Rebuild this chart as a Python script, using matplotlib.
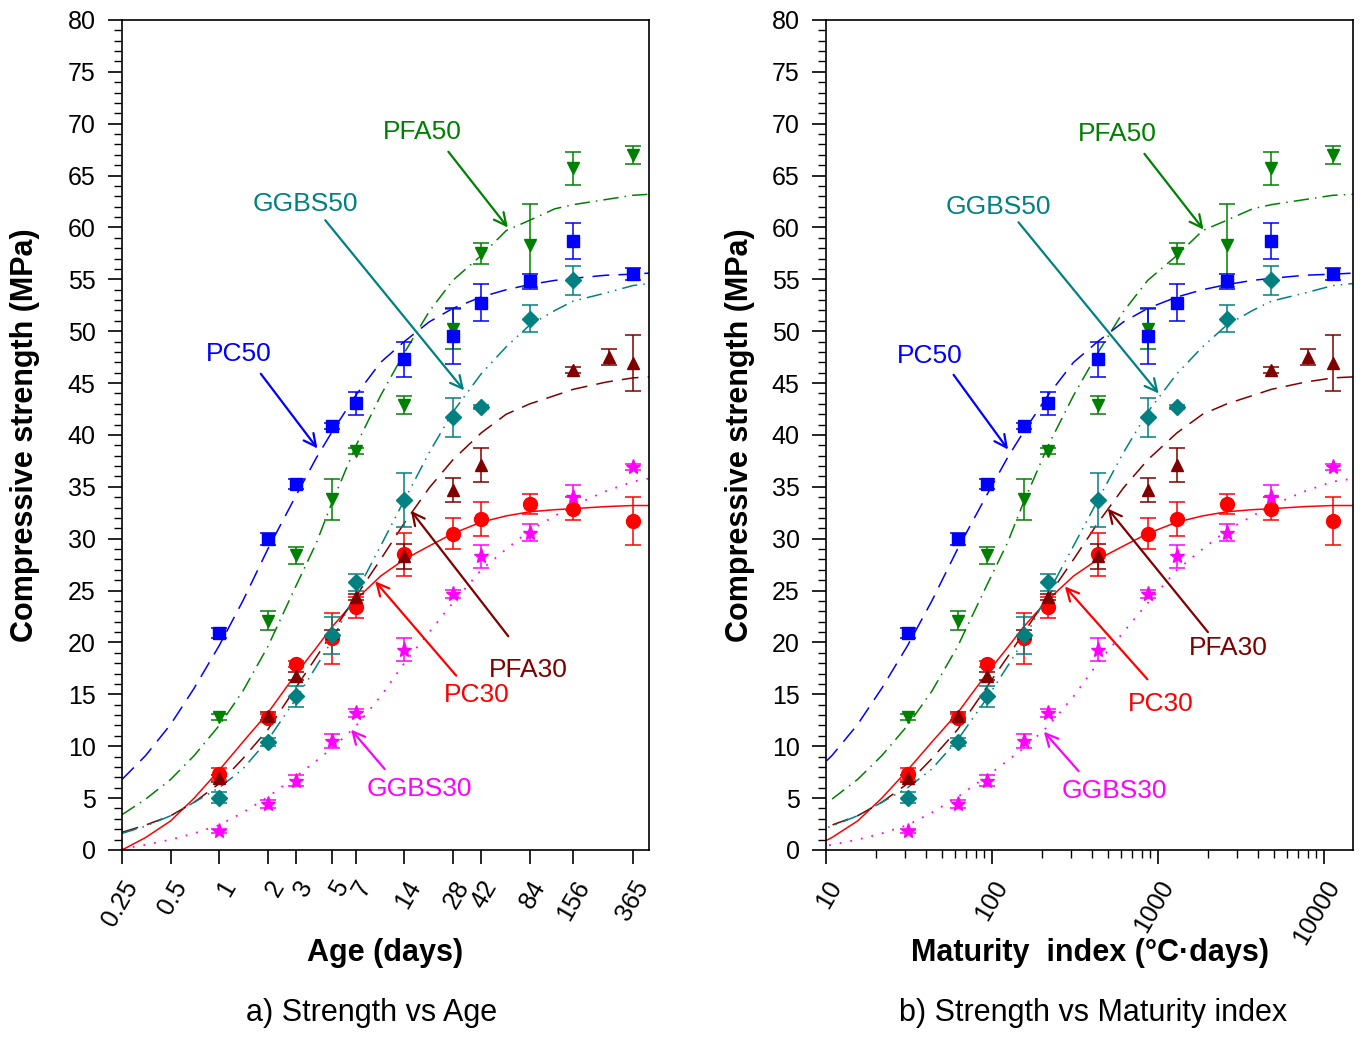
import matplotlib
matplotlib.use("Agg")
import matplotlib.pyplot as plt
from matplotlib.ticker import MultipleLocator, FixedLocator, NullFormatter, LogLocator, FixedFormatter

plt.rcParams["font.family"] = ["Liberation Sans", "DejaVu Sans"]

# ---- measured strengths (MPa) ----
ages = [1, 2, 3, 5, 7, 14, 28, 42, 84, 156, 365]
maturity = [31, 62, 93, 155, 217, 434, 868, 1302, 2604, 4836, 11315]

pc50 = [20.9, 30.0, 35.25, 40.9, 43.05, 47.3, 49.5, 52.75, 54.8, 58.7, 55.5]
pc50_err = [0.5, 0.6, 0.5, 0.3, 1.1, 1.7, 2.7, 1.8, 0.7, 1.7, 0.6]
pfa50 = [12.85, 22.1, 28.4, 33.8, 38.45, 42.9, 50.2, 57.5, 58.3, 65.7, 67.0]
pfa50_err = [0.3, 0.9, 0.8, 2.0, 0.3, 0.9, 1.9, 1.0, 4.0, 1.6, 0.9]

ages_ggbs50 = [1, 2, 3, 5, 7, 14, 28, 42, 84, 156]
maturity_ggbs50 = [31, 62, 93, 155, 217, 434, 868, 1302, 2604, 4836]
ggbs50 = [5.05, 10.4, 14.8, 20.7, 25.8, 33.7, 41.7, 42.7, 51.2, 54.9]
ggbs50_err = [0.5, 0.4, 1.0, 1.8, 0.8, 2.6, 1.9, 0.2, 1.3, 1.4]

pc30 = [7.3, 12.75, 17.96, 20.4, 23.4, 28.5, 30.5, 31.9, 33.35, 32.9, 31.7]
pc30_err = [0.6, 0.4, 0.3, 2.45, 1.0, 2.1, 1.5, 1.6, 0.95, 1.1, 2.3]

ages_pfa30 = [1, 2, 3, 5, 7, 14, 28, 42, 156, 260, 365]
maturity_pfa30 = [31, 62, 93, 155, 217, 434, 868, 1302, 4836, 8060, 11315]
pfa30 = [6.9, 12.9, 16.8, 20.9, 24.4, 28.3, 34.7, 37.1, 46.3, 47.5, 46.9]
pfa30_err = [0.3, 0.4, 0.4, 0.3, 0.3, 1.2, 1.2, 1.6, 0.3, 0.8, 2.7]

ggbs30 = [1.86, 4.43, 6.68, 10.5, 13.2, 19.3, 24.7, 28.3, 30.6, 34.0, 36.9]
ggbs30_err = [0.2, 0.4, 0.5, 0.7, 0.4, 1.1, 0.4, 1.1, 0.8, 1.2, 0.3]

# ---- fitted curves ----
ages_fit = [0.25, 0.35, 0.5, 0.7, 1, 1.4, 2, 3, 4, 5, 7, 10, 14, 20, 28, 42,
            60, 84, 120, 156, 250, 365, 460]
maturity_fit = [7.75, 10.85, 15.5, 21.7, 31, 43.4, 62, 93, 124, 155, 217, 310,
                434, 620, 868, 1302, 1860, 2604, 3720, 4836, 7750, 11315, 15000]
pc50_fit = [6.8, 9.1, 12.1, 15.6, 19.7, 24.0, 29.0, 34.2, 37.8, 40.3, 43.8, 47.0,
            49.0, 50.9, 52.2, 53.3, 54.0, 54.5, 54.9, 55.1, 55.4, 55.5, 55.6]
pfa50_fit = [3.4, 4.9, 6.8, 9.1, 12.0, 15.3, 19.6, 25.5, 29.6, 33.5, 38.9, 43.8,
             47.9, 51.9, 54.9, 57.3, 59.7, 60.7, 61.8, 62.2, 62.7, 63.1, 63.2]
ggbs50_fit = [1.6, 2.3, 3.3, 4.6, 6.0, 7.8, 10.6, 14.6, 17.7, 20.2, 24.7, 29.3,
              33.7, 38.3, 42.2, 45.9, 48.5, 50.6, 52.0, 52.9, 53.7, 54.4, 54.6]
pfa30_fit = [1.7, 2.4, 3.3, 4.6, 6.4, 8.8, 11.6, 15.7, 18.6, 20.9, 24.4, 28.0,
             31.5, 34.9, 37.6, 40.2, 42.0, 43.0, 43.8, 44.4, 45.1, 45.5, 45.6]
pc30_fit = [0.0, 1.2, 2.8, 5.0, 7.7, 10.4, 13.2, 17.0, 19.5, 21.5, 24.1, 26.4,
            28.0, 29.3, 30.5, 31.6, 32.2, 32.6, 32.8, 32.9, 33.1, 33.2, 33.2]
ggbs30_fit = [0.1, 0.5, 1.0, 1.6, 2.4, 3.6, 5.1, 7.1, 8.6, 9.8, 11.9, 14.8,
              18.0, 21.0, 23.8, 27.0, 29.0, 30.8, 32.2, 33.2, 34.6, 35.5, 35.8]

# label, colour, text pos, arrow tail, arrow head  (age panel / maturity panel)
notes_age = [
    ("PFA50", "#008000", (18.2, 69.2), (26.3, 67.3), (61.4, 60.0)),
    ("GGBS50", "#008080", (3.4, 62.3), (4.54, 60.7), (32.9, 44.3)),
    ("PC50", "#0000FF", (1.32, 47.8), (1.81, 45.9), (4.06, 38.7)),
    ("PFA30", "#800000", (82.5, 17.3), (61.8, 20.6), (15.4, 32.7)),
    ("PC30", "#FF0000", (39.6, 14.9), (29.4, 16.8), (9.25, 25.9)),
    ("GGBS30", "#FF00FF", (17.5, 5.9), (10.6, 7.8), (6.56, 11.6)),
]
notes_mat = [
    ("PFA50", "#008000", (566, 69.0), (830, 67.1), (1884, 59.8)),
    ("GGBS50", "#008080", (109, 62.0), (144.5, 60.5), (1011, 44.0)),
    ("PC50", "#0000FF", (42.4, 47.6), (58.7, 45.8), (125, 38.6)),
    ("PFA30", "#800000", (2643, 19.5), (2003, 21.0), (499, 32.9)),
    ("PC30", "#FF0000", (1042, 14.1), (865, 16.45), (275, 25.4)),
    ("GGBS30", "#FF00FF", (543, 5.7), (333, 7.6), (205.6, 11.4)),
]


def draw_panel(ax, x, x_g50, x_f30, x_fit, notes):
    ax.plot(x_fit, pc30_fit, color="#FF0000", lw=1.1)
    ax.plot(x_fit, pfa30_fit, color="#800000", lw=1.1, dashes=(11, 6))
    ax.plot(x_fit, ggbs30_fit, color="#FF00FF", lw=1.3, dashes=(1, 5))
    ax.plot(x_fit, ggbs50_fit, color="#008080", lw=1.1, dashes=(10, 4, 1, 4, 1, 4))
    ax.plot(x_fit, pfa50_fit, color="#008000", lw=1.1, dashes=(10, 4, 1, 4))
    ax.plot(x_fit, pc50_fit, color="#0000FF", lw=1.1, dashes=(11, 6))

    kw = dict(ls="none", capsize=6, elinewidth=1.1, capthick=1.1)
    ax.errorbar(x, pc30, yerr=pc30_err, fmt="o", ms=10, color="#FF0000", **kw)
    ax.errorbar(x_f30, pfa30, yerr=pfa30_err, fmt="^", ms=9, color="#800000", **kw)
    ax.errorbar(x, ggbs30, yerr=ggbs30_err, fmt="*", ms=11, color="#FF00FF", **kw)
    ax.errorbar(x_g50, ggbs50, yerr=ggbs50_err, fmt="D", ms=8, color="#008080", **kw)
    ax.errorbar(x, pfa50, yerr=pfa50_err, fmt="v", ms=9, color="#008000", **kw)
    ax.errorbar(x, pc50, yerr=pc50_err, fmt="s", ms=8, color="#0000FF", **kw)

    for label, col, txt, tail, head in notes:
        ax.text(txt[0], txt[1], label, color=col, fontsize=19, ha="center", va="center")
        ax.annotate("", xy=head, xytext=tail,
                    arrowprops=dict(arrowstyle="->", color=col, lw=1.6,
                                    mutation_scale=22, shrinkA=0, shrinkB=0))

    ax.set_xscale("log")
    ax.set_ylim(0, 80)
    ax.yaxis.set_major_locator(MultipleLocator(5))
    ax.yaxis.set_minor_locator(MultipleLocator(1))
    ax.tick_params(axis="both", which="major", direction="out", length=10, width=1.2,
                   labelsize=18, pad=9, top=False, right=False)
    ax.tick_params(axis="both", which="minor", direction="out", length=5.5, width=1.0,
                   top=False, right=False)
    ax.set_ylabel("Compressive strength (MPa)", fontsize=22, fontweight="bold")
    for s in ax.spines.values():
        s.set_linewidth(1.2)


fig = plt.figure(figsize=(13.62, 10.41), dpi=100)
ax1 = fig.add_axes([0.0896, 0.1835, 0.3869, 0.7973])
ax2 = fig.add_axes([0.6065, 0.1835, 0.3869, 0.7973])

draw_panel(ax1, ages, ages_ggbs50, ages_pfa30, ages_fit, notes_age)
ax1.set_xlim(0.25, 460)
age_ticks = [0.25, 0.5, 1, 2, 3, 5, 7, 14, 28, 42, 84, 156, 365]
ax1.xaxis.set_major_locator(FixedLocator(age_ticks))
ax1.xaxis.set_major_formatter(FixedFormatter([str(t) for t in age_ticks]))
ax1.xaxis.set_minor_locator(FixedLocator([]))
ax1.set_xlabel("Age (days)", fontsize=22, fontweight="bold")

draw_panel(ax2, maturity, maturity_ggbs50, maturity_pfa30, maturity_fit, notes_mat)
ax2.set_xlim(10, 15000)
ax2.xaxis.set_major_locator(FixedLocator([10, 100, 1000, 10000]))
ax2.xaxis.set_major_formatter(FixedFormatter(["10", "100", "1000", "10000"]))
ax2.xaxis.set_minor_locator(LogLocator(base=10, subs=range(2, 10)))
ax2.xaxis.set_minor_formatter(NullFormatter())
ax2.set_xlabel("Maturity  index (°C·days)", fontsize=22, fontweight="bold")

ax1.yaxis.set_label_coords(-0.184, 0.5)
ax2.yaxis.set_label_coords(-0.163, 0.5)
for ax in (ax1, ax2):
    ax.yaxis.label.set_verticalalignment("center")
    ax.xaxis.set_label_coords(0.5, -0.124)
    ax.xaxis.label.set_verticalalignment("center")
    for lab in ax.get_xticklabels():
        lab.set_rotation(60)
        lab.set_ha("right")
        lab.set_va("top")
        lab.set_rotation_mode("anchor")

fig.text(0.273, 0.027, "a) Strength vs Age", fontsize=22, ha="center", va="center")
fig.text(0.8025, 0.027, "b) Strength vs Maturity index", fontsize=22, ha="center", va="center")

fig.savefig("out.png", dpi=100)
